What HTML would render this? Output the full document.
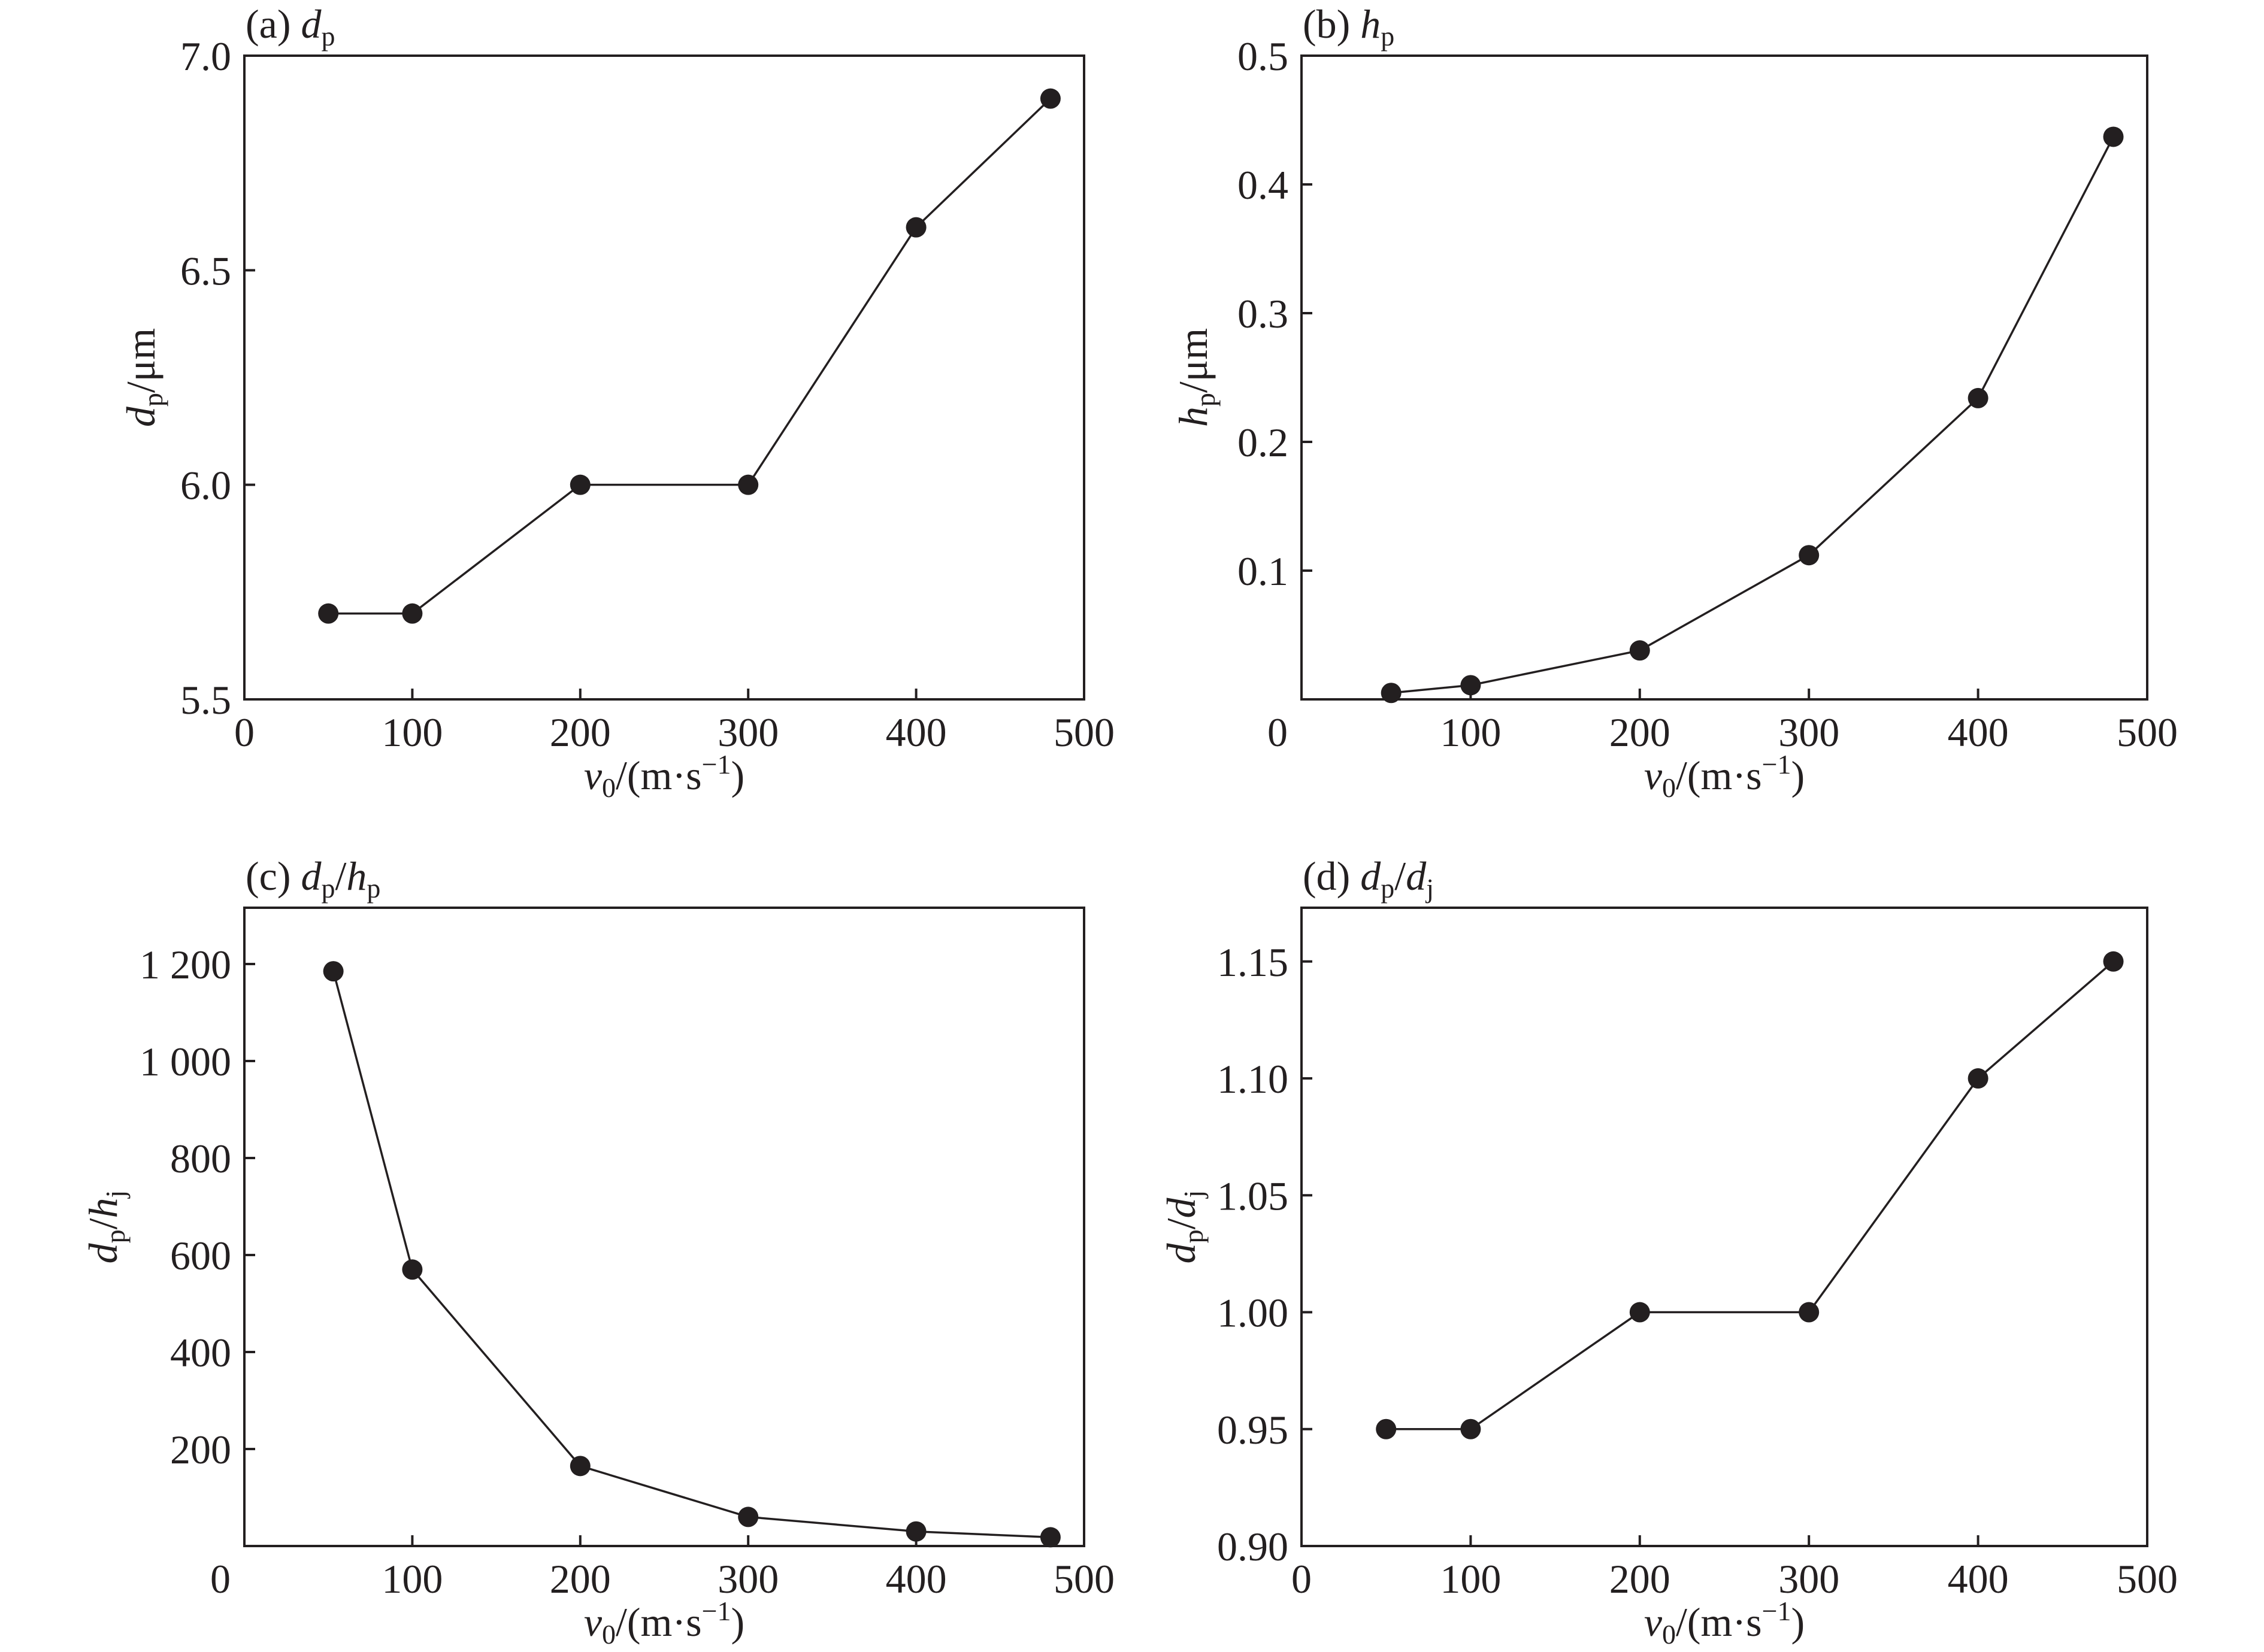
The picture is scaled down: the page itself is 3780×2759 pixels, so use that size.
<!DOCTYPE html>
<html><head><meta charset="utf-8">
<style>
html,body{margin:0;padding:0;background:#fff;}
svg{display:block;}
text{font-family:"Liberation Serif",serif;fill:#231f20;}
</style></head>
<body>
<svg id="fig" width="3780" height="2759" viewBox="0 0 3780 2759" xmlns="http://www.w3.org/2000/svg"></svg>
<script>
const velocityA = [50, 100, 200, 300, 400, 480];
const dpValues = [5.7, 5.7, 6.0, 6.0, 6.6, 6.9];
const velocityB = [53, 100, 200, 300, 400, 480];
const hpValues = [0.005, 0.011, 0.038, 0.112, 0.234, 0.437];
const velocityC = [53, 100, 200, 300, 400, 480];
const ratioHValues = [1185, 570, 165, 60, 30, 18];
const velocityD = [50, 100, 200, 300, 400, 480];
const ratioDValues = [0.95, 0.95, 1.0, 1.0, 1.1, 1.15];
const xTicks = [100, 200, 300, 400];
const xTickLabels = ["0", "100", "200", "300", "400", "500"];
const xLabelValues = [0, 100, 200, 300, 400, 500];
const yTicksA = [5.5, 6.0, 6.5, 7.0];
const yLabelsA = ["5.5", "6.0", "6.5", "7.0"];
const yTicksB = [0.1, 0.2, 0.3, 0.4, 0.5];
const yLabelsB = ["0.1", "0.2", "0.3", "0.4", "0.5"];
const yTicksC = [200, 400, 600, 800, 1000, 1200];
const yLabelsC = ["200", "400", "600", "800", "1 000", "1 200"];
const yTicksD = [0.90, 0.95, 1.00, 1.05, 1.10, 1.15];
const yLabelsD = ["0.90", "0.95", "1.00", "1.05", "1.10", "1.15"];

const NS = "http://www.w3.org/2000/svg";
const svg = document.getElementById("fig");
const FS = 68;
function mk(tag, attrs, parent) {
  const e = document.createElementNS(NS, tag);
  for (const k in attrs) e.setAttribute(k, attrs[k]);
  (parent || svg).appendChild(e);
  return e;
}

function panel(cfg) {
  const g = mk("g", {});
  
  
  const L = cfg.left, R = cfg.right, T = cfg.top, B = cfg.bottom;
  const sx = v => L + (v - 0) / 500 * (R - L);
  const sy = v => B - (v - cfg.ymin) / (cfg.ymax - cfg.ymin) * (B - T);
  const frame = mk("rect", {x: L, y: T, width: R - L, height: B - T, fill: "none", stroke: "#231f20", "stroke-width": 4}, g);
  
  
  xTicks.forEach(v => {
    const t = mk("line", {x1: sx(v), x2: sx(v), y1: B, y2: B - 18, stroke: "#231f20", "stroke-width": 4}, g);
    
    
  });
  xLabelValues.forEach((v, i) => {
    let x = sx(v);
    if (i === 0 && cfg.zeroOffset) x = L - cfg.zeroOffset;
    const t = mk("text", {x: x, y: B + 78, "font-size": FS, "text-anchor": "middle"}, g);
    t.textContent = xTickLabels[i];
    
    
  });
  cfg.yTicks.forEach((v, i) => {
    const y = sy(v);
    if (v !== cfg.ymin && v !== cfg.ymax) {
      const t = mk("line", {x1: L, x2: L + 18, y1: y, y2: y, stroke: "#231f20", "stroke-width": 4}, g);
      
      
    }
    const lb = mk("text", {x: L - 22, y: y + 24, "font-size": FS, "text-anchor": "end"}, g);
    lb.textContent = cfg.yLabels[i];
    
    
  });
  const pts = cfg.xs.map((x, i) => sx(x) + "," + sy(cfg.ys[i])).join(" ");
  const pl = mk("polyline", {points: pts, fill: "none", stroke: "#231f20", "stroke-width": 3.5}, g);
  
  
  cfg.xs.forEach((x, i) => {
    const c = mk("circle", {cx: sx(x), cy: sy(cfg.ys[i]), r: 17, fill: "#231f20"}, g);
    
    
  });
  const tt = mk("text", {x: L + 2, y: T - 30, "font-size": FS}, g);
  tt.innerHTML = cfg.title;
  
  
  const xt = mk("text", {x: (L + R) / 2, y: B + 150, "font-size": FS, "text-anchor": "middle"}, g);
  xt.innerHTML = '<tspan font-style="italic">v</tspan><tspan font-size="46" dy="13">0</tspan><tspan dy="-13">/(m·s</tspan><tspan font-size="46" dy="-26">−1</tspan><tspan dy="26">)</tspan>';
  
  
  const yc = (T + B) / 2;
  const yt = mk("text", {x: 0, y: 0, "font-size": FS, "text-anchor": "middle", transform: "translate(" + (cfg.ytitleX) + "," + yc + ") rotate(-90)"}, g);
  yt.innerHTML = cfg.ytitle;
  
  
}

const sub = s => '<tspan font-size="46" dy="13">' + s + '</tspan><tspan dy="-13">';
panel({name: "panel-a-dp", left: 408, right: 1810, top: 93, bottom: 1168, ymin: 5.5, ymax: 7.0,
  xs: velocityA, ys: dpValues, yTicks: yTicksA, yLabels: yLabelsA, zeroOffset: 0, ytitleX: 258,
  title: '(a) <tspan font-style="italic">d</tspan>' + sub('p') + '</tspan>',
  ytitle: '<tspan font-style="italic">d</tspan>' + sub('p') + '/μm</tspan>'});
panel({name: "panel-b-hp", left: 2173, right: 3585, top: 93, bottom: 1168, ymin: 0, ymax: 0.5,
  xs: velocityB, ys: hpValues, yTicks: yTicksB, yLabels: yLabelsB, zeroOffset: 40, ytitleX: 2015,
  title: '(b) <tspan font-style="italic">h</tspan>' + sub('p') + '</tspan>',
  ytitle: '<tspan font-style="italic">h</tspan>' + sub('p') + '/μm</tspan>'});
panel({name: "panel-c-dp-hp", left: 408, right: 1810, top: 1516, bottom: 2582, ymin: 0, ymax: 1316,
  xs: velocityC, ys: ratioHValues, yTicks: yTicksC, yLabels: yLabelsC, zeroOffset: 40, ytitleX: 195,
  title: '(c) <tspan font-style="italic">d</tspan>' + sub('p') + '/</tspan><tspan font-style="italic">h</tspan>' + sub('p') + '</tspan>',
  ytitle: '<tspan font-style="italic">d</tspan>' + sub('p') + '/</tspan><tspan font-style="italic">h</tspan>' + sub('j') + '</tspan>'});
panel({name: "panel-d-dp-dj", left: 2173, right: 3585, top: 1516, bottom: 2582, ymin: 0.90, ymax: 1.173,
  xs: velocityD, ys: ratioDValues, yTicks: yTicksD, yLabels: yLabelsD, zeroOffset: 0, ytitleX: 1995,
  title: '(d) <tspan font-style="italic">d</tspan>' + sub('p') + '/</tspan><tspan font-style="italic">d</tspan>' + sub('j') + '</tspan>',
  ytitle: '<tspan font-style="italic">d</tspan>' + sub('p') + '/</tspan><tspan font-style="italic">d</tspan>' + sub('j') + '</tspan>'});
</script>
</body></html>
